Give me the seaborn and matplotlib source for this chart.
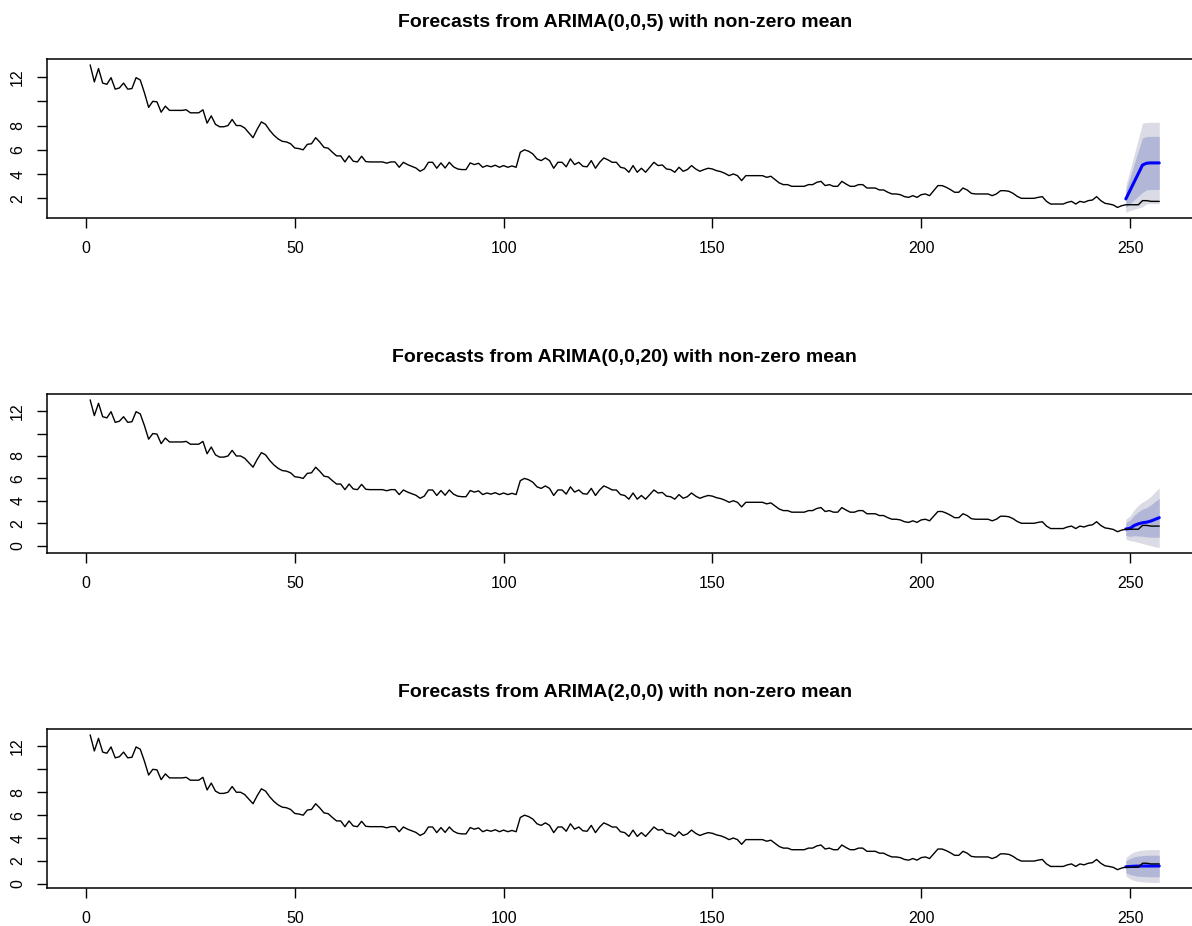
"""
Forecast plots for three ARIMA models, drawn in the style of R's plot.forecast.
"""

import numpy as np
import matplotlib
matplotlib.use('Agg')
import matplotlib.pyplot as plt
import seaborn as sns

# ── Style ─────────────────────────────────────────────────────────────────────
sns.set_theme(style='white')
plt.rcParams['font.family'] = ['Liberation Sans', 'DejaVu Sans']
plt.rcParams['text.color'] = 'black'

DARK_BAND  = '#B2B7D8'   # 80% interval
LIGHT_BAND = '#DADBE4'   # 95% interval
FC_BLUE    = '#0000FF'

# ── Data ──────────────────────────────────────────────────────────────────────
SERIES = [
    13.0, 11.6, 12.7, 11.5, 11.4, 11.95, 11.0, 11.1, 11.5, 11.0,
    11.05, 11.95, 11.75, 10.7, 9.5, 10.0, 9.95, 9.1, 9.6, 9.25,
    9.25, 9.25, 9.25, 9.3, 9.05, 9.05, 9.05, 9.3, 8.2, 8.8,
    8.1, 7.9, 7.9, 8.0, 8.5, 8.0, 8.0, 7.8, 7.4, 7.0,
    7.7, 8.3, 8.1, 7.6, 7.2, 6.9, 6.7, 6.65, 6.5, 6.15,
    6.1, 6.0, 6.45, 6.5, 7.0, 6.63, 6.2, 6.13, 5.8, 5.5,
    5.5, 5.0, 5.5, 5.06, 5.0, 5.47, 5.03, 5.0, 5.0, 5.0,
    5.0, 4.9, 5.0, 5.0, 4.56, 4.97, 4.78, 4.64, 4.5, 4.23,
    4.42, 4.97, 4.97, 4.48, 4.92, 4.5, 4.97, 4.6, 4.42, 4.37,
    4.37, 4.92, 4.78, 4.89, 4.56, 4.7, 4.6, 4.73, 4.56, 4.7,
    4.56, 4.67, 4.56, 5.8, 6.0, 5.88, 5.66, 5.25, 5.11, 5.33,
    5.11, 4.48, 4.97, 4.97, 4.6, 5.25, 4.78, 4.97, 4.64, 4.6,
    5.11, 4.48, 4.97, 5.33, 5.17, 4.97, 4.97, 4.56, 4.48, 4.15,
    4.7, 4.15, 4.48, 4.15, 4.56, 4.97, 4.7, 4.75, 4.42, 4.37,
    4.15, 4.56, 4.23, 4.37, 4.7, 4.42, 4.23, 4.37, 4.48, 4.42,
    4.28, 4.2, 4.06, 3.87, 4.01, 3.87, 3.46, 3.87, 3.87, 3.87,
    3.87, 3.87, 3.73, 3.82, 3.54, 3.27, 3.13, 3.13, 2.99, 2.99,
    2.99, 2.99, 3.13, 3.13, 3.32, 3.4, 3.05, 3.13, 2.99, 2.99,
    3.4, 3.18, 2.99, 2.99, 3.13, 3.13, 2.85, 2.85, 2.85, 2.69,
    2.69, 2.5, 2.36, 2.36, 2.3, 2.14, 2.08, 2.22, 2.08, 2.3,
    2.36, 2.22, 2.63, 3.05, 3.05, 2.91, 2.72, 2.5, 2.5, 2.85,
    2.69, 2.41, 2.36, 2.36, 2.36, 2.36, 2.22, 2.36, 2.63, 2.63,
    2.58, 2.41, 2.16, 2.0, 2.0, 2.0, 2.0, 2.08, 2.14, 1.75,
    1.53, 1.53, 1.53, 1.53, 1.67, 1.75, 1.53, 1.75, 1.67, 1.81,
    1.86, 2.14, 1.81, 1.59, 1.53, 1.45, 1.25, 1.39, 1.47, 1.47,
    1.47, 1.47, 1.81, 1.81, 1.75, 1.75, 1.75,
]
FC_STEPS = [249, 250, 251, 252, 253, 254, 255, 256, 257]

TITLES = [
    'Forecasts from ARIMA(0,0,5) with non-zero mean',
    'Forecasts from ARIMA(0,0,20) with non-zero mean',
    'Forecasts from ARIMA(2,0,0) with non-zero mean',
]

# ARIMA(0,0,5)
MEAN_A  = [1.95, 2.65, 3.35, 4.05, 4.75, 4.90, 4.92, 4.92, 4.92]
LO95_A  = [0.84, 1.00, 1.10, 1.20, 1.30, 1.55, 1.57, 1.57, 1.57]
LO80_A  = [1.23, 1.57, 1.88, 2.19, 2.50, 2.71, 2.73, 2.73, 2.73]
HI80_A  = [2.67, 3.73, 4.82, 5.91, 7.00, 7.09, 7.11, 7.11, 7.11]
HI95_A  = [3.06, 4.30, 5.60, 6.90, 8.20, 8.25, 8.27, 8.27, 8.27]

# ARIMA(0,0,20)
MEAN_B  = [1.49, 1.55, 1.80, 1.95, 2.05, 2.10, 2.20, 2.35, 2.50]
LO95_B  = [0.60, 0.45, 0.40, 0.30, 0.20, 0.10, 0.00, -0.10, -0.15]
LO80_B  = [0.91, 0.83, 0.89, 0.87, 0.84, 0.79, 0.76, 0.75, 0.77]
HI80_B  = [2.07, 2.27, 2.71, 3.03, 3.26, 3.41, 3.64, 3.95, 4.23]
HI95_B  = [2.38, 2.65, 3.20, 3.60, 3.90, 4.10, 4.40, 4.80, 5.15]

# ARIMA(2,0,0)
MEAN_C  = [1.50, 1.53, 1.55, 1.56, 1.57, 1.57, 1.57, 1.57, 1.57]
LO95_C  = [0.70, 0.46, 0.30, 0.22, 0.19, 0.16, 0.14, 0.14, 0.14]
LO80_C  = [0.98, 0.83, 0.73, 0.68, 0.66, 0.64, 0.63, 0.63, 0.63]
HI80_C  = [2.02, 2.23, 2.37, 2.44, 2.48, 2.50, 2.51, 2.51, 2.51]
HI95_C  = [2.30, 2.60, 2.80, 2.90, 2.95, 2.98, 3.00, 3.00, 3.00]

X_TICKS   = [0, 50, 100, 150, 200, 250]
Y_TICKS_A = [2, 4, 6, 8, 10, 12]
Y_LABS_A  = ['2', '4', '6', '8', '', '12']
Y_TICKS_B = [0, 2, 4, 6, 8, 10, 12]
Y_LABS_B  = ['0', '2', '4', '6', '8', '', '12']

# ── Layout (pixels of the 1192x926 figure) ────────────────────────────────────
W, H = 1192, 926
AX_LEFT, AX_WIDTH, AX_HEIGHT = 47.4, 1154.6, 159.3
AX_TOPS = [59, 394, 729]


def draw_panel(ax, title, mean, lo95, lo80, hi80, hi95, yticks, ylabels):
    t = np.arange(1, len(SERIES) + 1)

    ax.fill_between(FC_STEPS, lo95, hi95, color=LIGHT_BAND, lw=0, zorder=1)
    ax.fill_between(FC_STEPS, lo80, hi80, color=DARK_BAND, lw=0, zorder=2)
    sns.lineplot(x=FC_STEPS, y=mean, ax=ax, color=FC_BLUE, lw=2.2,
                 estimator=None, sort=False, zorder=3)
    sns.lineplot(x=t, y=SERIES, ax=ax, color='black', lw=1.0,
                 estimator=None, sort=False, zorder=4)

    ax.margins(x=0.04, y=0.04)
    ax.set_xticks(X_TICKS)
    ax.set_xticklabels([str(v) for v in X_TICKS])
    ax.set_yticks(yticks)
    ax.set_yticklabels(ylabels, rotation=90, va='center')
    ax.set_xlabel('')
    ax.set_ylabel('')

    ax.tick_params(axis='both', direction='out', length=7, width=1.0,
                   color='black', labelcolor='black', labelsize=11.5, pad=9,
                   bottom=True, left=True)
    for sp in ax.spines.values():
        sp.set_visible(True)
        sp.set_color('black')
        sp.set_linewidth(1.1)

    ax.set_title(title, fontsize=14, fontweight='bold', color='black', pad=23)


def main():
    fig = plt.figure(figsize=(W / 100, H / 100), dpi=100)
    fig.patch.set_facecolor('white')

    panels = [
        (MEAN_A, LO95_A, LO80_A, HI80_A, HI95_A, Y_TICKS_A, Y_LABS_A),
        (MEAN_B, LO95_B, LO80_B, HI80_B, HI95_B, Y_TICKS_B, Y_LABS_B),
        (MEAN_C, LO95_C, LO80_C, HI80_C, HI95_C, Y_TICKS_B, Y_LABS_B),
    ]
    for top, title, args in zip(AX_TOPS, TITLES, panels):
        ax = fig.add_axes([AX_LEFT / W, 1 - (top + AX_HEIGHT) / H,
                           AX_WIDTH / W, AX_HEIGHT / H])
        ax.set_facecolor('white')
        draw_panel(ax, title, *args)

    fig.savefig('out.png', dpi=100)
    plt.close(fig)


if __name__ == '__main__':
    main()
